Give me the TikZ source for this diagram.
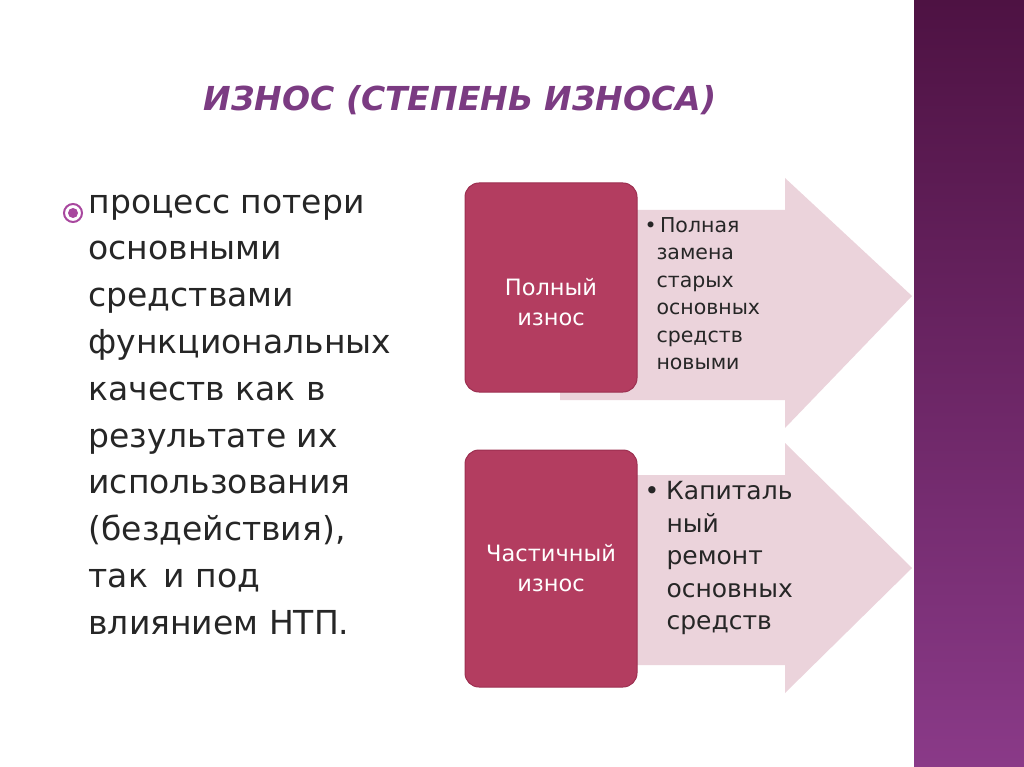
\documentclass[tikz,border=0pt]{standalone}
\usepackage{fontspec}
\setmainfont{DejaVu Sans}
\definecolor{ttl}{HTML}{7B3B82}
\definecolor{boxc}{HTML}{B33D60}
\definecolor{boxd}{HTML}{9C2F50}
\definecolor{arr}{HTML}{EBD3DB}
\definecolor{stripT}{HTML}{4E1243}
\definecolor{stripB}{HTML}{8A3A88}
\definecolor{txt}{HTML}{262626}
\definecolor{dotc}{HTML}{A8479E}
\begin{document}
\begin{tikzpicture}[x=1pt,y=-1pt,
  rbox/.style={draw=boxd,fill=boxc,rounded corners=14pt,line width=1pt},
  arrowshape/.style={fill=arr},
  boxtext/.style={text=white,font=\fontsize{22.5}{30}\selectfont,align=center},
  bodytext/.style={text=txt,anchor=north west,align=left}]
\useasboundingbox (0,0) rectangle (1024,767);
\shade[top color=stripT,bottom color=stripB] (914,0) rectangle (1024,767);
\node[text=ttl,font=\fontsize{33}{40}\selectfont\bfseries\itshape] (title) at (460,100) {ИЗНОС (СТЕПЕНЬ ИЗНОСА)};
% arrows
\fill[arrowshape] (560,210) -- (785,210) -- (785,178) -- (912,296) -- (785,428) -- (785,400) -- (560,400) -- cycle;
\fill[arrowshape] (560,475) -- (785,475) -- (785,443) -- (912,568) -- (785,693) -- (785,665) -- (560,665) -- cycle;
\draw[rbox] (465,183) rectangle (637,392);
\draw[rbox] (465,450) rectangle (637,687);
\node[boxtext] (b1) at (551,302) {Полный\\износ};
\node[boxtext] (b2) at (551,568) {Частичный\\износ};
\node[bodytext,font=\fontsize{20.5}{27.5}\selectfont] (t1) at (641,214) {•\,Полная\\\hspace*{12pt}замена\\\hspace*{12pt}старых\\\hspace*{12pt}основных\\\hspace*{12pt}средств\\\hspace*{12pt}новыми};
\node[bodytext,font=\fontsize{25}{32.5}\selectfont] (t2) at (641,478) {•\;Капиталь\\\hspace*{22pt}ный\\\hspace*{22pt}ремонт\\\hspace*{22pt}основных\\\hspace*{22pt}средств};
\draw[dotc,line width=2pt] (73,213) circle (9);
\fill[dotc] (73,213) circle (5);
\node[bodytext,font=\fontsize{33}{46.8}\selectfont] (body) at (85,191) {процесс потери\\основными\\средствами\\функциональных\\качеств как в\\результате их\\использования\\(бездействия),\\так\, и под\\влиянием НТП.};
\end{tikzpicture}
\end{document}
